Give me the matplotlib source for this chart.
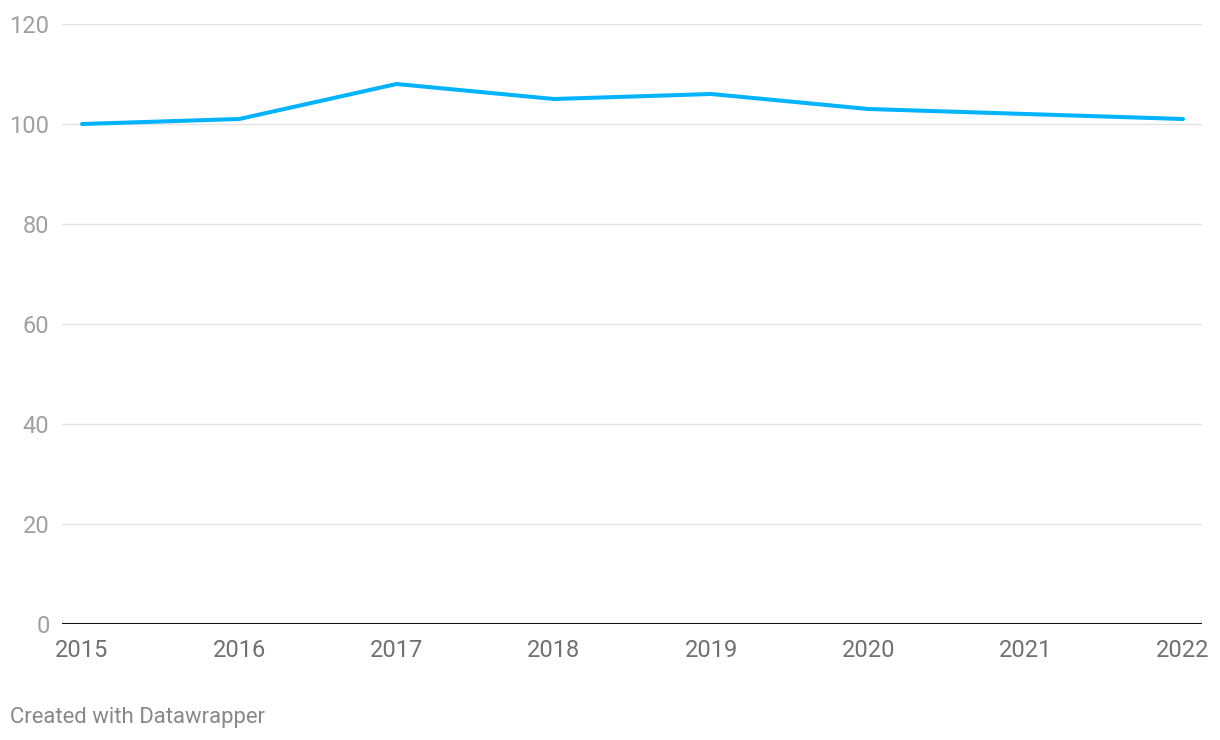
import matplotlib.pyplot as plt

years = [2015, 2016, 2017, 2018, 2019, 2020, 2021, 2022]
values = [100, 101, 108, 105, 106, 103, 102, 101]
y_ticks = [0, 20, 40, 60, 80, 100, 120]

plt.rcParams["font.family"] = ["Roboto", "DejaVu Sans"]

W, H = 1220, 740
fig = plt.figure(figsize=(W / 100, H / 100), dpi=100)
ax = fig.add_axes([62 / W, 1 - 624 / H, (1202 - 62) / W, 600 / H])

ax.plot(years, values, color="#00b3ff", lw=2.9, solid_capstyle="round", zorder=3)

ax.set_ylim(0, 120)
ax.set_xlim(2015 - 20 / 157.3, 2022 + 19 / 157.3)
ax.set_yticks(y_ticks)
ax.set_xticks(years)
ax.set_xticklabels([str(y) for y in years])
ax.grid(axis="y", color="#e3e3e3", lw=1)
ax.axhline(0, color="#111111", lw=1.5, zorder=4)

for s in ax.spines.values():
    s.set_visible(False)
ax.tick_params(axis="both", length=0)
ax.tick_params(axis="y", labelsize=17, labelcolor="#a0a0a0", pad=9)
ax.tick_params(axis="x", labelsize=17, labelcolor="#707070", pad=11)

fig.text(10 / W, 1 - 718 / H, "Created with Datawrapper", fontsize=15.9,
         color="#888888", va="center", ha="left")

fig.savefig("out.png", dpi=100, facecolor="white")
